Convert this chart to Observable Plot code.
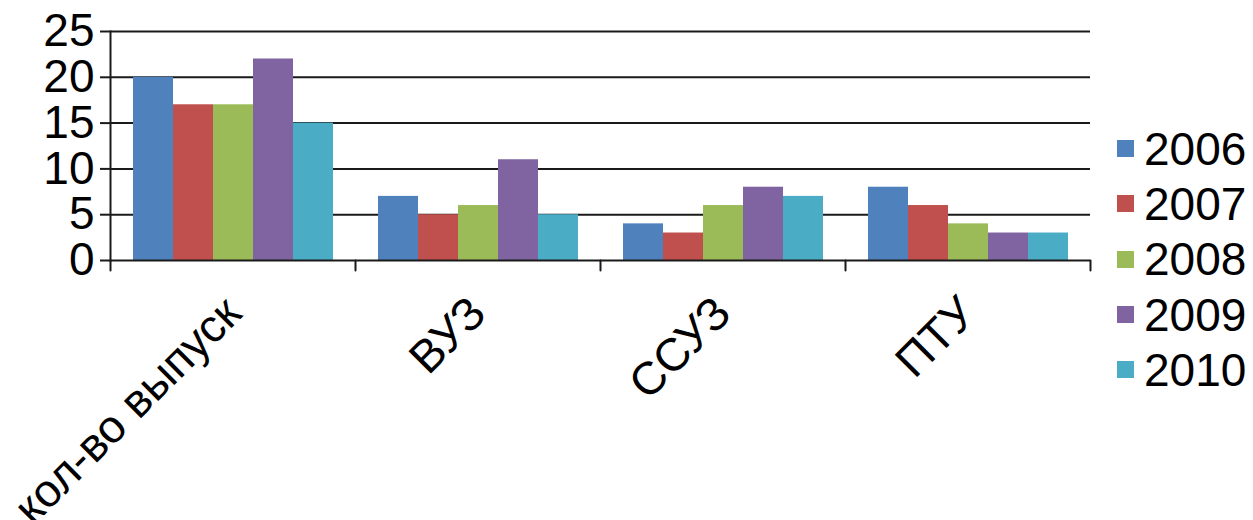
<!DOCTYPE html>
<html>
<head>
<meta charset="utf-8">
<script src="https://cdn.jsdelivr.net/npm/d3@7"></script>
<script src="https://cdn.jsdelivr.net/npm/@observablehq/plot@0.6"></script>
<style>
  html, body { margin: 0; padding: 0; background: #fff; }
  #wrap { position: relative; width: 1253px; height: 520px; overflow: hidden; font-family: "Liberation Sans", Arial, sans-serif; }
  #legend { position: absolute; left: 1117px; top: 121px; }
  .row { display: flex; align-items: center; height: 55.3px; font-size: 46px; color: #000; }
  .sw { width: 17px; height: 17px; margin-right: 10px; }
</style>
</head>
<body>
<div id="wrap"><div id="legend"></div></div>
<script>
const categories = ["кол-во выпуск", "ВУЗ", "ССУЗ", "ПТУ"];
const years = ["2006", "2007", "2008", "2009", "2010"];
const v2006 = [20, 7, 4, 8];
const v2007 = [17, 5, 3, 6];
const v2008 = [17, 6, 6, 4];
const v2009 = [22, 11, 8, 3];
const v2010 = [15, 5, 7, 3];
const colors = ["#4F81BD", "#C0504D", "#9BBB59", "#8064A2", "#4BACC6"];
const yTicks = [0, 5, 10, 15, 20, 25];

const series = [v2006, v2007, v2008, v2009, v2010];
const data = years.flatMap((yr, i) => categories.map((c, j) => ({category: c, year: yr, value: series[i][j]})));

const tickShape = {draw(context, l) { context.moveTo(0, 0); context.lineTo(0, -l); }};
const lineColor = "#1a1a1a";

const chart = Plot.plot({
  width: 1100,
  height: 520,
  marginLeft: 108,
  marginRight: 9,
  marginTop: 31,
  marginBottom: 260,
  style: {fontFamily: "'Liberation Sans', Arial, sans-serif", fontSize: "46px", background: "white", color: "#000"},
  fx: {domain: categories, padding: 0, label: null},
  x: {domain: years, paddingInner: 0, paddingOuter: 0.5, axis: null},
  y: {domain: [0, 25], label: null},
  color: {domain: years, range: colors},
  marks: [
    Plot.ruleY(yTicks.filter(t => t > 0), {stroke: lineColor, strokeWidth: 2}),
    Plot.barY(data, {fx: "category", x: "year", y: "value", fill: "year"}),
    Plot.ruleY([0], {stroke: lineColor, strokeWidth: 2}),
    Plot.frame({anchor: "left", facetAnchor: "left", stroke: lineColor, strokeWidth: 2}),
    Plot.vector(categories, {fx: d => d, frameAnchor: "bottom-left", length: 10, rotate: 180, anchor: "start", shape: tickShape, stroke: lineColor, strokeWidth: 2}),
    Plot.vector(categories.slice(-1), {fx: d => d, frameAnchor: "bottom-right", length: 10, rotate: 180, anchor: "start", shape: tickShape, stroke: lineColor, strokeWidth: 2}),
    Plot.axisY({ticks: yTicks, tickSize: 10, tickPadding: 6, label: null, fontSize: 46, stroke: lineColor, strokeWidth: 2}),
    Plot.axisFx({anchor: "bottom", tickSize: 0, tickRotate: -45, tickPadding: 45, label: null, fontSize: 46})
  ]
});
const wrap = document.getElementById("wrap");
wrap.insertBefore(chart, wrap.firstChild);
chart.style.position = "absolute";
chart.style.left = "0px";
chart.style.top = "0px";

const legend = document.getElementById("legend");
years.forEach((yr, i) => {
  const row = document.createElement("div");
  row.className = "row";
  const sw = document.createElement("div");
  sw.className = "sw";
  sw.style.background = colors[i];
  const t = document.createElement("span");
  t.textContent = yr;
  row.appendChild(sw);
  row.appendChild(t);
  legend.appendChild(row);
});
</script>
</body>
</html>
